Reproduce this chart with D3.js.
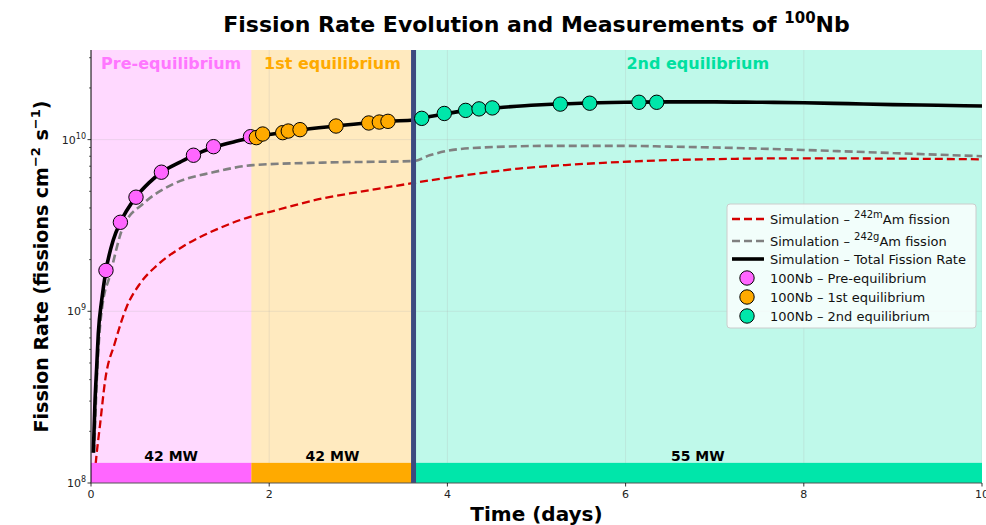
<!DOCTYPE html>
<html>
<head>
<meta charset="utf-8">
<script src="https://cdn.jsdelivr.net/npm/d3@7"></script>
<style>
  body { margin: 0; background: #fff; }
  svg { display: block; font-family: "DejaVu Sans", sans-serif; }
</style>
</head>
<body>
<svg id="chart" width="986" height="525"></svg>
<script>
// ---------------- DATA ----------------
const xTicks = [0, 2, 4, 6, 8, 10];
const yTickExps = [8, 9, 10];

const phaseNames = ["Pre-equilibrium", "1st equilibrium", "2nd equilibrium"];
const phaseStart = [0, 1.8, 3.62];
const phaseEnd = [1.8, 3.62, 10];
const phasePower = ["42 MW", "42 MW", "55 MW"];
const transitionTime = 3.62;

// Simulation – 242mAm fission (red dashed)
const amMTime = [0.04, 0.064, 0.1, 0.157, 0.27, 0.4, 0.55, 0.74, 1.04, 1.41, 1.785, 2.01, 2.6, 3.0, 3.3, 3.62, 4.2, 4.8, 5.4, 5.94, 6.5, 7.0, 8.0, 9.0, 10.0];
const amMRate = [1.1e8, 1.49e8, 2.15e8, 3.9e8, 6.6e8, 1.06e9, 1.45e9, 1.85e9, 2.4e9, 3.0e9, 3.55e9, 3.8e9, 4.55e9, 4.95e9, 5.25e9, 5.59e9, 6.2e9, 6.78e9, 7.15e9, 7.41e9, 7.6e9, 7.7e9, 7.78e9, 7.75e9, 7.68e9];

// Simulation – 242gAm fission (grey dashed)
const amGTime = [0.035, 0.07, 0.1, 0.13, 0.21, 0.36, 0.59, 0.92, 1.37, 1.82, 2.6, 3.62, 3.8, 4.0, 4.4, 5.2, 6.0, 6.5, 7.0, 8.0, 9.0, 10.0];
const amGRate = [1.5e8, 4.5e8, 8.0e8, 1.1e9, 1.6e9, 3.1e9, 4.25e9, 5.5e9, 6.45e9, 7.1e9, 7.35e9, 7.5e9, 8.1e9, 8.6e9, 9.0e9, 9.2e9, 9.2e9, 9.1e9, 9.0e9, 8.7e9, 8.35e9, 8.0e9];

// Simulation – Total fission rate (black)
const totalTime = [0.026, 0.045, 0.064, 0.082, 0.12, 0.168, 0.25, 0.33, 0.5, 0.65, 0.8, 1.0, 1.15, 1.37, 1.6, 1.8, 2.0, 2.3, 2.75, 3.1, 3.35, 3.62, 3.7, 4.0, 4.3, 4.6, 5.0, 5.5, 6.0, 6.5, 7.0, 7.5, 8.0, 8.5, 9.0, 9.5, 10.0];
const totalRate = [1.5e8, 3.0e8, 4.75e8, 7.45e8, 1.16e9, 1.73e9, 2.6e9, 3.3e9, 4.6e9, 5.6e9, 6.5e9, 7.4e9, 8.1e9, 9.0e9, 9.7e9, 1.02e10, 1.07e10, 1.13e10, 1.2e10, 1.25e10, 1.28e10, 1.30e10, 1.33e10, 1.42e10, 1.50e10, 1.54e10, 1.59e10, 1.63e10, 1.65e10, 1.66e10, 1.66e10, 1.65e10, 1.64e10, 1.62e10, 1.60e10, 1.585e10, 1.57e10];

// 100Nb measurements
const preTime = [0.168, 0.33, 0.505, 0.79, 1.15, 1.375, 1.79];
const preRate = [1.73e9, 3.30e9, 4.62e9, 6.46e9, 8.11e9, 9.1e9, 1.04e10];
const eq1Time = [1.855, 1.927, 2.152, 2.214, 2.346, 2.75, 3.117, 3.236, 3.333];
const eq1Rate = [1.027e10, 1.078e10, 1.098e10, 1.122e10, 1.143e10, 1.20e10, 1.25e10, 1.266e10, 1.278e10];
const eq2Time = [3.712, 3.965, 4.205, 4.355, 4.504, 5.267, 5.597, 6.15, 6.349];
const eq2Rate = [1.33e10, 1.42e10, 1.48e10, 1.51e10, 1.53e10, 1.61e10, 1.63e10, 1.65e10, 1.65e10];

// ---------------- STYLE ----------------
const phaseColor = ["#ff66ff", "#ffaa00", "#00e6aa"];
const phaseTextColor = ["#ff77ff", "#ffaa00", "#00e0a0"];

const svg = d3.select("#chart");
const m = { left: 91, right: 982, top: 50, bottom: 483 };

const x = d3.scaleLinear().domain([0, 10]).range([m.left, m.right]);
const y = d3.scaleLog().domain([1e8, Math.pow(10, 10.522)]).range([m.bottom, m.top]);

const zip = (a, b) => a.map((v, i) => [v, b[i]]);

svg.append("defs").append("clipPath").attr("id", "plotclip")
  .append("rect").attr("x", m.left).attr("y", m.top)
  .attr("width", m.right - m.left).attr("height", m.bottom - m.top);

const plot = svg.append("g").attr("clip-path", "url(#plotclip)");

// phase backgrounds
phaseNames.forEach((n, i) => {
  plot.append("rect")
    .attr("x", x(phaseStart[i])).attr("y", m.top)
    .attr("width", x(phaseEnd[i]) - x(phaseStart[i]))
    .attr("height", m.bottom - m.top)
    .attr("fill", phaseColor[i]).attr("fill-opacity", 0.25);
});

// grid
xTicks.forEach(t => {
  plot.append("line").attr("x1", x(t)).attr("x2", x(t))
    .attr("y1", m.top).attr("y2", m.bottom)
    .attr("stroke", "#b0b0b0").attr("stroke-opacity", 0.3).attr("stroke-width", 0.8);
});
yTickExps.forEach(e => {
  plot.append("line").attr("x1", m.left).attr("x2", m.right)
    .attr("y1", y(Math.pow(10, e))).attr("y2", y(Math.pow(10, e)))
    .attr("stroke", "#b0b0b0").attr("stroke-opacity", 0.3).attr("stroke-width", 0.8);
});

// lines
const line = d3.line().x(d => x(d[0])).y(d => y(d[1])).curve(d3.curveMonotoneX);

plot.append("path").datum(zip(amMTime, amMRate))
  .attr("d", line).attr("fill", "none")
  .attr("stroke", "#d40000").attr("stroke-width", 2.3).attr("stroke-dasharray", "8,4");
plot.append("path").datum(zip(amGTime, amGRate))
  .attr("d", line).attr("fill", "none")
  .attr("stroke", "#808080").attr("stroke-width", 2.6).attr("stroke-dasharray", "8,4");
plot.append("path").datum(zip(totalTime, totalRate))
  .attr("d", line).attr("fill", "none")
  .attr("stroke", "#000").attr("stroke-width", 3.6);

// bottom power bars
const barTop = 1.31e8;
phaseNames.forEach((n, i) => {
  plot.append("rect")
    .attr("x", x(phaseStart[i])).attr("y", y(barTop))
    .attr("width", x(phaseEnd[i]) - x(phaseStart[i]))
    .attr("height", y(1e8) - y(barTop))
    .attr("fill", phaseColor[i]);
  svg.append("text")
    .attr("x", x((phaseStart[i] + phaseEnd[i]) / 2))
    .attr("y", y(barTop) - 1.5)
    .attr("text-anchor", "middle")
    .attr("font-size", 14).attr("font-weight", "bold").attr("fill", "#000")
    .text(phasePower[i]);
});

// transition line
plot.append("line").attr("x1", x(transitionTime)).attr("x2", x(transitionTime))
  .attr("y1", m.top).attr("y2", m.bottom)
  .attr("stroke", "#3d4a80").attr("stroke-width", 5);

// phase labels
phaseNames.forEach((n, i) => {
  svg.append("text")
    .attr("x", x((phaseStart[i] + phaseEnd[i]) / 2))
    .attr("y", 69)
    .attr("text-anchor", "middle")
    .attr("font-size", 16).attr("font-weight", "bold")
    .attr("fill", phaseTextColor[i])
    .text(n);
});

// points
const groups = [[preTime, preRate], [eq1Time, eq1Rate], [eq2Time, eq2Rate]];
groups.forEach((g, i) => {
  plot.selectAll(null).data(zip(g[0], g[1])).enter().append("circle")
    .attr("cx", d => x(d[0])).attr("cy", d => y(d[1])).attr("r", 7.2)
    .attr("fill", phaseColor[i]).attr("stroke", "#000").attr("stroke-width", 1);
});

// spines
svg.append("line").attr("x1", m.left).attr("x2", m.left).attr("y1", m.top).attr("y2", m.bottom)
  .attr("stroke", "#000").attr("stroke-width", 1);
svg.append("line").attr("x1", m.left).attr("x2", m.right).attr("y1", m.bottom).attr("y2", m.bottom)
  .attr("stroke", "#555").attr("stroke-width", 1);

// x ticks
const xAxis = svg.append("g");
xTicks.forEach(t => {
  xAxis.append("line").attr("x1", x(t)).attr("x2", x(t)).attr("y1", m.bottom).attr("y2", m.bottom + 3.5)
    .attr("stroke", "#000").attr("stroke-width", 0.8);
  xAxis.append("text").attr("x", x(t)).attr("y", m.bottom + 15)
    .attr("text-anchor", "middle").attr("font-size", 11).attr("fill", "#222").text(t);
});

// y ticks
const yAxis = svg.append("g");
const yMax = y.domain()[1];
yTickExps.forEach(e => {
  const v = Math.pow(10, e);
  yAxis.append("line").attr("x1", m.left - 3.5).attr("x2", m.left).attr("y1", y(v)).attr("y2", y(v))
    .attr("stroke", "#000").attr("stroke-width", 0.8);
  const t = yAxis.append("text").attr("x", m.left - 5).attr("y", y(v) + 4)
    .attr("text-anchor", "end").attr("font-size", 11).attr("fill", "#222");
  t.append("tspan").text("10");
  t.append("tspan").attr("font-size", 8).attr("dy", -5).text(e);
  for (let k = 2; k <= 9; k++) {
    const mv = k * v;
    if (mv > yMax) break;
    yAxis.append("line").attr("x1", m.left - 2).attr("x2", m.left).attr("y1", y(mv)).attr("y2", y(mv))
      .attr("stroke", "#000").attr("stroke-width", 0.6);
  }
});

// title
const title = svg.append("text").attr("x", (m.left + m.right) / 2).attr("y", 32)
  .attr("text-anchor", "middle").attr("font-size", 22).attr("font-weight", "bold").attr("fill", "#000");
title.append("tspan").text("Fission Rate Evolution and Measurements of ");
title.append("tspan").attr("font-size", 15).attr("dy", -9).text("100");
title.append("tspan").attr("dy", 9).text("Nb");

// x label
svg.append("text").attr("x", (m.left + m.right) / 2).attr("y", 521)
  .attr("text-anchor", "middle").attr("font-size", 20).attr("font-weight", "bold").text("Time (days)");

// y label
const yl = svg.append("text").attr("transform", `translate(48,${(m.top + m.bottom) / 2}) rotate(-90)`)
  .attr("text-anchor", "middle").attr("font-size", 19).attr("font-weight", "bold");
yl.append("tspan").text("Fission Rate (fissions cm");
yl.append("tspan").attr("font-size", 13).attr("dy", -8).text("−2");
yl.append("tspan").attr("dy", 8).text(" s");
yl.append("tspan").attr("font-size", 13).attr("dy", -8).text("−1");
yl.append("tspan").attr("dy", 8).text(")");

// legend
const lg = svg.append("g").attr("transform", "translate(727,204)");
lg.append("rect").attr("x", 0).attr("y", 0).attr("width", 249).attr("height", 124).attr("rx", 3)
  .attr("fill", "#fff").attr("fill-opacity", 0.8).attr("stroke", "#cccccc").attr("stroke-width", 1);

const legendItems = [
  { type: "line", color: "#d40000", dash: "8,4", w: 2.3, parts: [["Simulation – ", 0], ["242m", 1], ["Am fission", 0]], y: 15 },
  { type: "line", color: "#808080", dash: "8,4", w: 2.6, parts: [["Simulation – ", 0], ["242g", 1], ["Am fission", 0]], y: 37 },
  { type: "line", color: "#000", dash: null, w: 3.6, parts: [["Simulation – Total Fission Rate", 0]], y: 55 },
  { type: "dot", color: phaseColor[0], parts: [["100Nb – Pre-equilibrium", 0]], y: 74 },
  { type: "dot", color: phaseColor[1], parts: [["100Nb – 1st equilibrium", 0]], y: 93 },
  { type: "dot", color: phaseColor[2], parts: [["100Nb – 2nd equilibrium", 0]], y: 112 }
];
legendItems.forEach(it => {
  if (it.type === "line") {
    const l = lg.append("line").attr("x1", 5).attr("x2", 37).attr("y1", it.y).attr("y2", it.y)
      .attr("stroke", it.color).attr("stroke-width", it.w);
    if (it.dash) l.attr("stroke-dasharray", it.dash);
  } else {
    lg.append("circle").attr("cx", 20).attr("cy", it.y).attr("r", 7.2)
      .attr("fill", it.color).attr("stroke", "#000").attr("stroke-width", 1);
  }
  const t = lg.append("text").attr("x", 43).attr("y", it.y + 4.5).attr("font-size", 13).attr("fill", "#111");
  let sup = false;
  it.parts.forEach(p => {
    const ts = t.append("tspan").text(p[0]);
    if (p[1] && !sup) { ts.attr("font-size", 10).attr("dy", -6); sup = true; }
    else if (!p[1] && sup) { ts.attr("dy", 6); sup = false; }
  });
});
</script>
</body>
</html>
